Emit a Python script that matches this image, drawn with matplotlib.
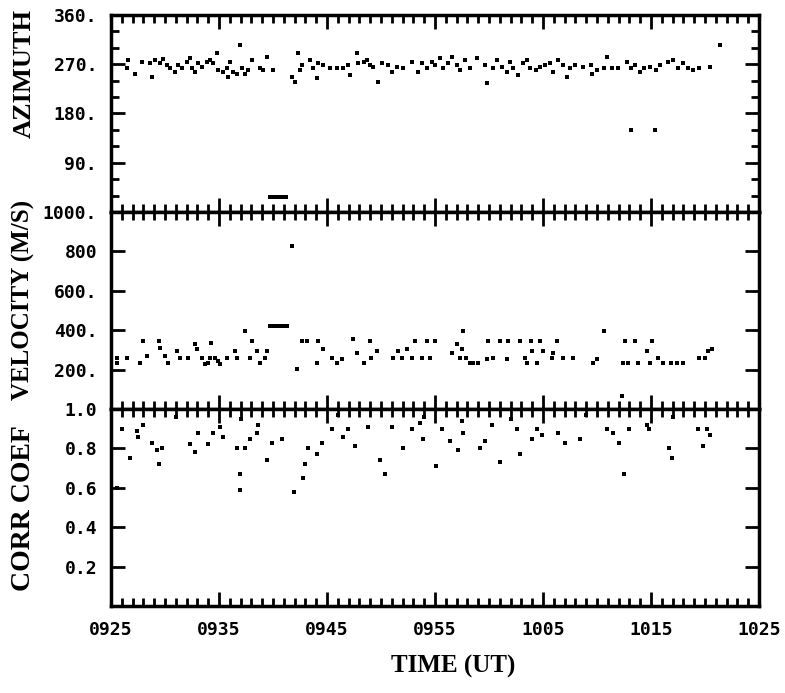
import matplotlib
matplotlib.use("Agg")
import matplotlib.pyplot as plt
from matplotlib.ticker import MultipleLocator, FixedLocator

# time in minutes after 0925 UT
az_t = [1.6, 1.5, 2.2, 2.9, 3.6, 3.8, 4.1, 4.5, 4.8, 5.2, 5.5, 5.9, 6.2, 6.6, 7.0, 7.3, 7.5, 7.8,
        8.1, 8.4, 8.9, 9.2, 9.4, 9.8, 9.9, 10.4, 10.7, 10.8, 11.0, 11.3, 11.7, 11.9, 12.1, 12.4,
        13.1, 12.7, 13.8, 14.1, 14.4, 15.0, 16.8, 17.0, 17.3, 17.5, 17.7, 18.4, 18.7, 19.1, 19.2,
        19.6, 20.3, 20.9, 21.5, 21.9, 22.1, 22.8, 22.9, 23.4, 23.7, 24.0, 24.3, 24.7, 25.1, 25.6,
        26.0, 26.5, 27.0, 27.9, 28.4, 28.8, 29.3, 29.7, 30.0, 30.5, 30.7, 31.2, 31.6, 32.0, 32.3,
        32.8, 33.2, 33.9, 34.6, 34.8, 35.4, 35.7, 36.2, 36.7, 36.9, 37.2, 37.7, 38.1, 38.5, 38.8,
        39.3, 39.7, 40.2, 40.6, 40.9, 41.4, 41.8, 42.2, 42.5, 43.0, 43.7, 44.4, 44.5, 45.0, 45.6,
        45.9, 46.4, 46.9, 47.8, 48.1, 48.5, 49.0, 49.3, 49.9, 50.5, 50.8, 51.6, 52.0, 52.5, 53.0,
        53.4, 53.9, 54.4, 55.5, 56.4, 48.1, 50.4,
        14.7, 15.0, 15.3, 15.6, 15.9, 16.2]
az = [277, 263, 252, 274, 272, 246, 277, 272, 279, 268, 263, 255, 268, 263, 274, 281, 263, 255,
      272, 265, 274, 277, 272, 290, 259, 255, 263, 246, 274, 255, 253, 305, 263, 253,
      277, 259, 263, 259, 283, 259, 246, 237, 290, 259, 268, 277, 263, 244, 272,
      268, 263, 263, 263, 268, 250, 290, 272, 274, 277, 268, 265, 237, 272, 268,
      255, 265, 263, 274, 255, 272, 263, 274, 268, 281, 263, 272, 283, 268, 259,
      277, 263, 281, 268, 235, 263, 277, 265, 255, 274, 263, 250, 272, 277, 263,
      259, 265, 268, 272, 255, 277, 268, 246, 263, 268, 265, 268, 253, 259, 263,
      283, 263, 263, 274, 263, 268, 255, 263, 265, 259, 268, 274, 277, 263, 272,
      263, 259, 263, 265, 305, 149, 149,
      28, 28, 28, 28, 28, 28]

vel_t = [0.6, 0.6, 1.5, 2.7, 3.0, 3.3, 4.4, 4.5, 5.0, 5.3, 6.1, 6.4, 7.1, 7.8, 8.0, 8.4, 8.7, 9.0,
         9.2, 9.3, 9.6, 9.9, 10.1, 10.7, 11.5, 11.7, 12.4, 12.9, 13.1, 13.5, 13.8, 14.3, 14.4,
         16.8, 17.2, 17.7, 18.1, 19.1, 19.2, 19.6, 20.5, 20.9, 21.4, 22.4, 22.8, 23.4, 24.0, 24.1,
         24.6, 26.1, 26.6, 26.9, 27.4, 27.9, 28.1, 28.8, 29.3, 29.5, 30.0, 31.6, 32.0, 32.3, 32.5,
         32.6, 32.9, 33.2, 33.5, 34.0, 34.8, 34.9, 35.4, 36.0, 36.7, 36.8, 37.9, 38.3, 38.5, 38.9,
         39.0, 39.4, 39.7, 40.0, 40.8, 40.9, 41.3, 41.8, 42.8, 44.6, 45.0, 45.6, 47.3, 47.4, 47.6,
         47.9, 48.5, 48.8, 49.6, 49.9, 50.1, 50.6, 51.1, 51.8, 52.4, 53.0, 54.4, 55.0, 55.3, 55.6,
         14.7, 15.0, 15.3, 15.6, 15.9, 16.3]
vel = [259, 234, 259, 234, 345, 269, 345, 310, 269, 234, 294, 259, 259, 330, 305, 259, 228, 234,
       259, 335, 259, 244, 228, 259, 294, 259, 396, 259, 345, 294, 234, 259, 294,
       827, 203, 345, 345, 234, 345, 305, 259, 234, 254, 355, 284, 234, 345, 259,
       294, 259, 294, 259, 305, 259, 345, 259, 345, 259, 345, 284, 330, 259, 305,
       396, 259, 234, 234, 234, 254, 345, 259, 345, 254, 345, 345, 259, 234, 345,
       294, 234, 345, 294, 259, 284, 345, 259, 259, 234, 254, 396, 66, 234, 345,
       234, 345, 234, 294, 234, 345, 259, 234, 234, 234, 234, 259, 259, 294, 305,
       420, 420, 420, 420, 420, 420]

cc_t = [0.6, 1.0, 1.8, 2.4, 2.5, 3.0, 3.8, 4.3, 4.4, 4.7, 7.3, 7.8, 8.1, 9.0, 9.4, 10.1, 10.4,
        11.7, 11.9, 11.9, 12.4, 12.9, 13.5, 13.6, 14.4, 14.9, 15.8, 16.9, 17.8, 18.0, 18.2, 19.1,
        19.5, 20.5, 21.5, 21.9, 22.6, 23.8, 24.9, 25.4, 26.0, 27.0, 27.9, 28.6, 28.9, 30.1,
        30.6, 31.4, 32.1, 32.5, 32.6, 34.2, 34.6, 35.3, 36.0, 37.6, 37.9, 39.0, 39.4, 39.9, 41.4,
        42.0, 43.4, 45.9, 46.5, 47.0, 47.5, 48.0, 49.6, 49.8, 51.7, 51.9, 54.3, 54.8, 55.2, 55.5,
        6.0, 12.0, 21.0, 29.0, 37.0, 44.0, 52.0]
cc = [0.60, 0.90, 0.75, 0.89, 0.86, 0.92, 0.83, 0.79, 0.72, 0.80, 0.82, 0.78, 0.88, 0.82, 0.88,
      0.91, 0.86, 0.80, 0.67, 0.59, 0.80, 0.85, 0.88, 0.92, 0.74, 0.83, 0.85, 0.58, 0.65, 0.72,
      0.80, 0.77, 0.83, 0.90, 0.86, 0.90, 0.81, 0.91, 0.74, 0.67, 0.91, 0.80, 0.90, 0.93, 0.85,
      0.71, 0.90, 0.84, 0.79, 0.94, 0.88, 0.80, 0.84, 0.92, 0.73, 0.90, 0.77, 0.85, 0.90, 0.87,
      0.88, 0.83, 0.85, 0.90, 0.88, 0.83, 0.67, 0.90, 0.92, 0.90, 0.80, 0.75, 0.90, 0.81, 0.90,
      0.87, 0.96, 0.95, 0.97, 0.96, 0.95, 0.97, 0.96]

xtick_labels = ["0925", "0935", "0945", "0955", "1005", "1015", "1025"]
az_ticks = [90, 180, 270, 360]
az_labels = ["90.", "180.", "270.", "360."]
vel_ticks = [200, 400, 600, 800, 1000]
vel_labels = ["200.", "400.", "600.", "800", "1000."]
cc_ticks = [0.2, 0.4, 0.6, 0.8, 1.0]
cc_labels = ["0.2", "0.4", "0.6", "0.8", "1.0"]

fig, axes = plt.subplots(3, 1, sharex=True, figsize=(7.85, 6.93), dpi=100)
fig.subplots_adjust(left=0.1414, right=0.967, bottom=0.1255, top=0.9784, hspace=0)

tickfont = dict(family="DejaVu Sans Mono", weight="bold", size=13)
labfont = dict(family="Liberation Serif", weight="bold")

panels = [
    (axes[0], az_t, az, 360, az_ticks, az_labels, 30),
    (axes[1], vel_t, vel, 1000, vel_ticks, vel_labels, None),
    (axes[2], cc_t, cc, 1.0, cc_ticks, cc_labels, None),
]
for ax, xs, ys, top, yt, yl, ymin in panels:
    ax.plot(xs, ys, "s", color="black", markersize=2.3, markeredgewidth=0)
    ax.set_ylim(0, top)
    ax.set_xlim(0, 60)
    ax.yaxis.set_major_locator(FixedLocator(yt))
    ax.set_yticklabels(yl, fontdict=tickfont)
    if ymin:
        ax.yaxis.set_minor_locator(MultipleLocator(ymin))
    ax.xaxis.set_major_locator(MultipleLocator(10))
    ax.xaxis.set_minor_locator(MultipleLocator(1))
    ax.tick_params(which="both", direction="in", top=True, bottom=True, left=True, right=True,
                   color="black", width=2)
    ax.tick_params(which="major", length=10, pad=10)
    ax.tick_params(which="minor", length=6)
    for s in ax.spines.values():
        s.set_linewidth(2.5)

axes[2].set_xticks([0, 10, 20, 30, 40, 50, 60])
axes[2].set_xticklabels(xtick_labels, fontdict=tickfont)
axes[2].tick_params(axis="x", which="major", pad=11)

fig.text(0.031, 1 - 73 / 693, "AZIMUTH", rotation=90, ha="center", va="center", fontsize=19, **labfont)
fig.text(0.030, 1 - 300 / 693, "VELOCITY (M/S)", rotation=90, ha="center", va="center", fontsize=18, **labfont)
fig.text(0.030, 1 - 508 / 693, "CORR COEF", rotation=90, ha="center", va="center", fontsize=20, **labfont)
fig.text(453 / 785, 1 - 666 / 693, "TIME (UT)", ha="center", va="center", fontsize=18, **labfont)

fig.savefig("out.png", dpi=100)
